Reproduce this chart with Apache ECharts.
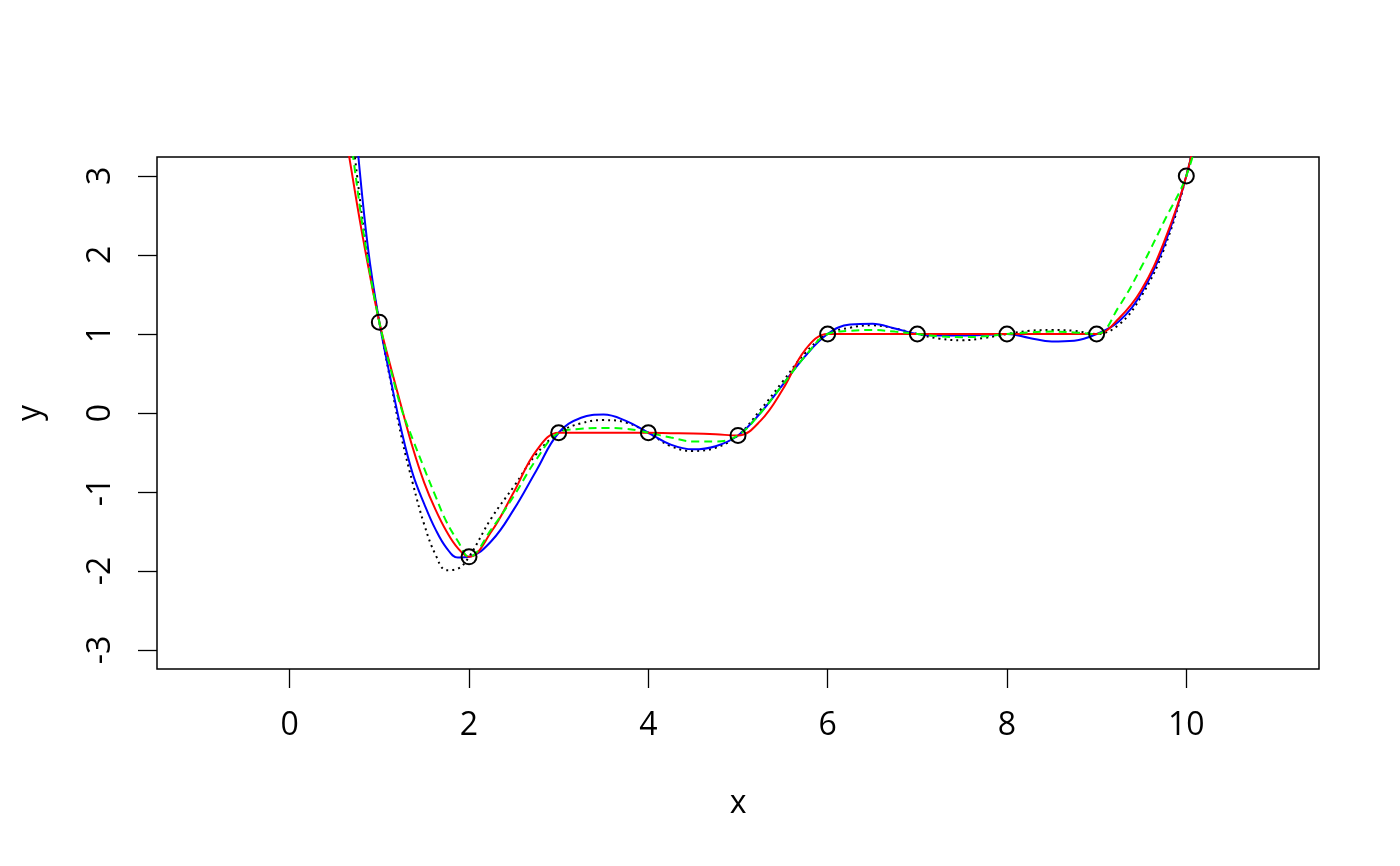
<!DOCTYPE html>
<html>
<head>
<meta charset="utf-8">
<script src="https://cdn.jsdelivr.net/npm/echarts@6/dist/echarts.min.js"></script>
<style>html,body{margin:0;padding:0;background:#fff}#c{width:1400px;height:866px}</style>
</head>
<body>
<div id="c"></div>
<script>
// Observed data points
const ptX = [1, 2, 3, 4, 5, 6, 7, 8, 9, 10];
const ptY = [1.15, -1.82, -0.25, -0.25, -0.284, 1, 1, 1, 1, 3];

// Sample positions along the curves
const xs = [0.5, 0.75, 0.875, 1, 1.125, 1.25, 1.375, 1.5, 1.625, 1.75, 1.875, 2, 2.25, 2.5, 2.75, 3, 3.25, 3.5, 3.75, 4, 4.25, 4.5, 4.75, 5, 5.25, 5.5, 5.75, 6, 6.25, 6.5, 6.75, 7, 7.25, 7.5, 7.75, 8, 8.25, 8.5, 8.75, 9, 9.25, 9.5, 9.75, 10, 10.25];

// black dotted curve
const blackDotted = [5.5, 3.02, 1.94, 1.15, 0.40, -0.32, -0.90, -1.41, -1.79, -1.99, -1.97, -1.82, -1.33, -0.93, -0.52, -0.25, -0.13, -0.09, -0.12, -0.25, -0.42, -0.48, -0.44, -0.284, 0.04, 0.40, 0.76, 1.0, 1.08, 1.11, 1.07, 1.0, 0.94, 0.92, 0.95, 1.0, 1.04, 1.05, 1.04, 1.0, 1.12, 1.48, 2.07, 3.0, 4.3];
// blue solid curve
const blueSolid = [6.4, 3.43, 2.07, 1.15, 0.43, -0.24, -0.78, -1.15, -1.47, -1.71, -1.83, -1.82, -1.62, -1.22, -0.73, -0.25, -0.06, -0.02, -0.10, -0.25, -0.40, -0.46, -0.42, -0.284, 0.0, 0.36, 0.72, 1.0, 1.12, 1.13, 1.07, 1.0, 0.98, 0.98, 0.99, 1.0, 0.95, 0.905, 0.915, 1.0, 1.16, 1.52, 2.11, 3.0, 4.2];
// red solid curve
const redSolid = [4.4, 2.65, 1.86, 1.15, 0.59, 0.06, -0.45, -0.88, -1.22, -1.50, -1.71, -1.82, -1.50, -1.00, -0.48, -0.25, -0.25, -0.25, -0.25, -0.25, -0.255, -0.26, -0.27, -0.284, -0.10, 0.30, 0.80, 1.0, 1.0, 1.0, 1.0, 1.0, 1.0, 1.0, 1.0, 1.0, 1.0, 1.0, 1.0, 1.0, 1.20, 1.56, 2.16, 3.0, 4.3];
// green dashed curve
const greenDashed = [5.1, 2.88, 1.91, 1.15, 0.56, 0.04, -0.34, -0.70, -1.05, -1.38, -1.62, -1.82, -1.47, -1.05, -0.59, -0.25, -0.20, -0.19, -0.20, -0.25, -0.31, -0.36, -0.36, -0.284, 0.0, 0.36, 0.72, 1.0, 1.04, 1.05, 1.03, 1.0, 0.97, 0.96, 0.97, 1.0, 1.02, 1.03, 1.02, 1.0, 1.35, 1.85, 2.42, 3.0, 4.0];

// tick labels
const xTicks = [0, 2, 4, 6, 8, 10];
const yTicks = [-3, -2, -1, 0, 1, 2, 3];

const FONT = 'Open Sans';
const pair = ys => xs.map((x, i) => [x, ys[i]]);

const chart = echarts.init(document.getElementById('c'), null, {renderer: 'canvas'});
chart.setOption({
  animation: false,
  backgroundColor: '#ffffff',
  textStyle: {fontFamily: FONT},
  grid: {left: 157, right: 81, top: 157, bottom: 197, show: true, borderColor: '#000', borderWidth: 1.5, backgroundColor: 'transparent'},
  xAxis: {
    type: 'value', min: -1.48, max: 11.48,
    name: 'x', nameLocation: 'middle', nameGap: 118,
    nameTextStyle: {fontSize: 32, color: '#000', fontFamily: FONT, lineHeight: 33},
    axisLine: {show: false, onZero: false},
    splitLine: {show: false},
    axisTick: {show: true, length: 19, customValues: xTicks, lineStyle: {color: '#000', width: 1.3}},
    axisLabel: {customValues: xTicks, margin: 40, fontSize: 32, lineHeight: 33, color: '#000', fontFamily: FONT}
  },
  yAxis: {
    type: 'value', min: -3.24, max: 3.24,
    name: 'y', nameLocation: 'middle', nameGap: 110,
    nameTextStyle: {fontSize: 32, color: '#000', fontFamily: FONT, lineHeight: 33},
    axisLine: {show: false, onZero: false},
    splitLine: {show: false},
    axisTick: {show: true, length: 19, customValues: yTicks, lineStyle: {color: '#000', width: 1.3}},
    axisLabel: {customValues: yTicks, rotate: 90, margin: 40, fontSize: 32, lineHeight: 33, color: '#000', fontFamily: FONT}
  },
  series: [
    {type: 'scatter', data: ptX.map((x, i) => [x, ptY[i]]), symbol: 'circle', symbolSize: 15,
     itemStyle: {color: 'transparent', borderColor: '#000', borderWidth: 2, opacity: 1}, z: 5},
    {type: 'line', data: pair(blackDotted), smooth: 0.4, showSymbol: false, clip: true,
     lineStyle: {color: '#000', width: 2, type: [2, 4]}, z: 1},
    {type: 'line', data: pair(blueSolid), smooth: 0.4, showSymbol: false, clip: true,
     lineStyle: {color: '#0000ff', width: 2}, z: 2},
    {type: 'line', data: pair(redSolid), smooth: 0.4, showSymbol: false, clip: true,
     lineStyle: {color: '#ff0000', width: 2}, z: 3},
    {type: 'line', data: pair(greenDashed), smooth: 0.4, showSymbol: false, clip: true,
     lineStyle: {color: '#00ff00', width: 2, type: [8, 5]}, z: 4}
  ]
});
</script>
</body>
</html>
